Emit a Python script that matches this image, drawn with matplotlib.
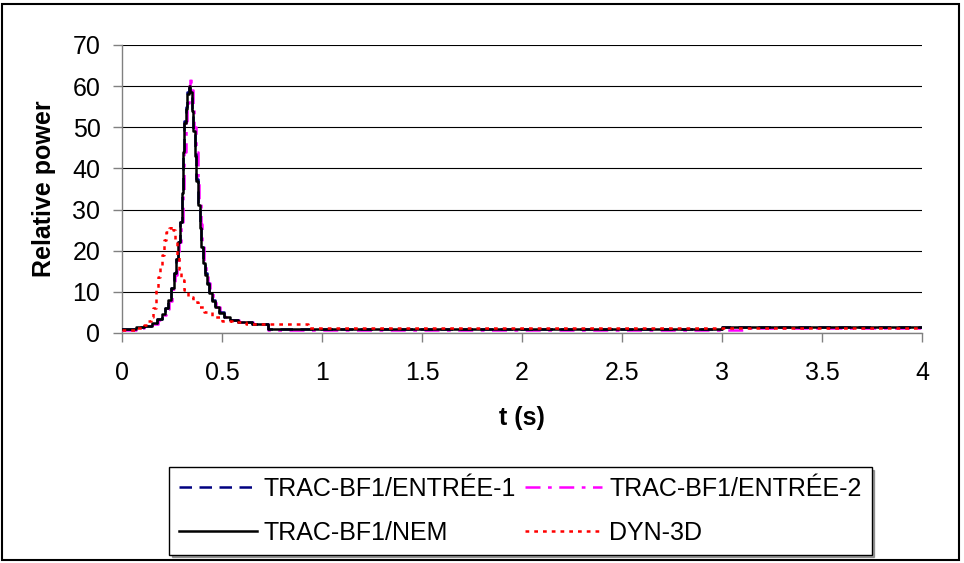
import matplotlib
matplotlib.use("Agg")
import matplotlib.pyplot as plt
from matplotlib.patches import Rectangle

plt.rcParams['font.family'] = ['Liberation Sans', 'DejaVu Sans']

# ---- data ----
t_nem = [0, 0.07, 0.11, 0.15, 0.175, 0.2, 0.215, 0.23, 0.245, 0.26, 0.27, 0.28, 0.29,
         0.298, 0.305, 0.312, 0.32, 0.327, 0.333, 0.34, 0.348, 0.356, 0.364, 0.372,
         0.38, 0.388, 0.396, 0.404, 0.414, 0.424, 0.436, 0.45, 0.465, 0.485, 0.51,
         0.54, 0.58, 0.65, 0.73, 3.0, 4.0]
p_nem = [1.0, 1.4, 1.8, 2.5, 3.3, 4.5, 6.0, 8.0, 11.0, 14.5, 18.0, 22.0, 27.0,
         34.0, 44.0, 51.0, 54.5, 58.0, 60.0, 58.5, 54.0, 49.0, 43.0, 37.0,
         31.0, 25.5, 21.0, 17.0, 14.0, 12.0, 9.8, 7.8, 6.2, 4.9, 3.9,
         3.1, 2.6, 2.2, 1.0, 1.45, 1.45]

t_e1 = [0, 0.07, 0.11, 0.15, 0.175, 0.2, 0.215, 0.23, 0.245, 0.26, 0.27, 0.28, 0.29,
        0.298, 0.305, 0.312, 0.32, 0.327, 0.333, 0.34, 0.348, 0.356, 0.364, 0.372,
        0.38, 0.388, 0.396, 0.404, 0.414, 0.424, 0.436, 0.45, 0.465, 0.485, 0.51,
        0.54, 0.58, 0.65, 0.73, 3.0, 4.0]
p_e1 = [1.0, 1.4, 1.8, 2.5, 3.3, 4.5, 6.0, 8.0, 11.0, 14.5, 18.0, 22.0, 27.0,
        34.0, 44.0, 51.5, 55.0, 58.5, 59.5, 58.5, 54.5, 49.5, 43.5, 37.5,
        31.5, 26.0, 21.5, 17.5, 14.5, 12.2, 10.0, 7.9, 6.3, 5.0, 3.9,
        3.1, 2.6, 2.2, 1.0, 1.45, 1.45]

t_e2 = [0, 0.07, 0.11, 0.15, 0.18, 0.205, 0.22, 0.235, 0.25, 0.265, 0.276, 0.286, 0.296,
        0.304, 0.311, 0.318, 0.326, 0.333, 0.339, 0.346, 0.354, 0.362, 0.37, 0.378,
        0.386, 0.394, 0.402, 0.41, 0.42, 0.43, 0.442, 0.456, 0.47, 0.49, 0.515,
        0.545, 0.585, 0.655, 0.73, 3.13, 4.0]
p_e2 = [0.8, 1.2, 1.6, 2.3, 3.1, 4.3, 5.8, 7.8, 10.8, 14.2, 17.8, 22.0, 27.0,
        34.0, 44.0, 51.5, 56.0, 60.0, 62.5, 59.0, 55.0, 50.0, 44.0, 38.0,
        32.0, 26.5, 21.5, 17.5, 14.5, 12.2, 10.0, 8.0, 6.4, 5.0, 3.9,
        3.1, 2.6, 2.1, 0.85, 1.3, 1.3]

t_dyn = [0, 0.07, 0.11, 0.13, 0.143, 0.155, 0.168, 0.178, 0.188, 0.198, 0.21, 0.222,
         0.235, 0.245, 0.255, 0.265, 0.275, 0.285, 0.295, 0.31, 0.33, 0.355, 0.38,
         0.41, 0.45, 0.5, 0.55, 0.62, 0.93, 4.0]
p_dyn = [0.8, 1.2, 1.9, 2.8, 3.9, 6.0, 10.4, 13.5, 16.0, 19.0, 22.6, 24.5,
         25.5, 26.0, 25.0, 22.6, 19.0, 15.5, 12.8, 10.4, 8.8, 7.6, 6.2,
         5.0, 3.9, 3.0, 2.6, 2.2, 1.3, 1.3]

labels = ['TRAC-BF1/ENTRÉE-1', 'TRAC-BF1/ENTRÉE-2', 'TRAC-BF1/NEM', 'DYN-3D']
x_ticks = [0, 0.5, 1, 1.5, 2, 2.5, 3, 3.5, 4]
x_tick_labels = ['0', '0.5', '1', '1.5', '2', '2.5', '3', '3.5', '4']
y_ticks = [0, 10, 20, 30, 40, 50, 60, 70]

# ---- figure ----
W, H = 964, 563
fig = plt.figure(figsize=(W / 100, H / 100), dpi=100)
ax = fig.add_axes([122 / W, 1 - 333 / H, 800 / W, 288 / H])

l2, = ax.plot(t_e2, p_e2, drawstyle='steps-post', color='#FF00FF', lw=1.8,
              linestyle=(0, (6, 3, 1.5, 3)), label=labels[1], zorder=3)
l1, = ax.plot(t_e1, p_e1, drawstyle='steps-post', color='#000080', lw=1.8,
              linestyle=(0, (5, 3)), label=labels[0], zorder=4)
l3, = ax.plot(t_nem, p_nem, drawstyle='steps-post', color='black', lw=1.8,
              linestyle='-', label=labels[2], zorder=5)
l4, = ax.plot(t_dyn, p_dyn, drawstyle='steps-post', color='#FF0000', lw=1.8,
              linestyle=(0, (1.5, 2.0)), label=labels[3], zorder=6)

ax.set_xlim(0, 4)
ax.set_ylim(0, 70)
ax.set_xticks(x_ticks)
ax.set_xticklabels(x_tick_labels)
ax.set_yticks(y_ticks)
ax.grid(axis='y', color='black', lw=0.8)
ax.set_axisbelow(True)
for s in ['top', 'right']:
    ax.spines[s].set_visible(False)
for s in ['left', 'bottom']:
    ax.spines[s].set_color('#808080')
    ax.spines[s].set_linewidth(1.0)
ax.tick_params(axis='both', direction='out', length=6.5, width=1.0, color='#808080',
               labelsize=18)
ax.tick_params(axis='x', pad=14)
ax.tick_params(axis='y', pad=9)
ax.set_xlabel('t (s)', fontsize=18, fontweight='bold', labelpad=15)
ax.set_ylabel('Relative power', fontsize=18, fontweight='bold', labelpad=12)

# row-major order: ENTRÉE-1, ENTRÉE-2 / NEM, DYN-3D  (matplotlib fills columns first)
handles = [l1, l3, l2, l4]
hlabels = [labels[0], labels[2], labels[1], labels[3]]
leg = fig.legend(handles, hlabels, ncol=2,
                 loc='upper left', bbox_to_anchor=(169 / W, 1 - 467 / H),
                 fontsize=18, frameon=True, fancybox=False, shadow=True,
                 edgecolor='black', handlelength=3.1, handletextpad=0.28,
                 borderaxespad=0, labelspacing=0.78, columnspacing=0.35, borderpad=0.4)
leg.get_frame().set_linewidth(1.0)

fig.patches.append(Rectangle((1.5 / W, 3.5 / H), 957 / W, 556 / H, transform=fig.transFigure,
                             fill=False, edgecolor='black', lw=1.5))

fig.savefig('out.png', dpi=100)
